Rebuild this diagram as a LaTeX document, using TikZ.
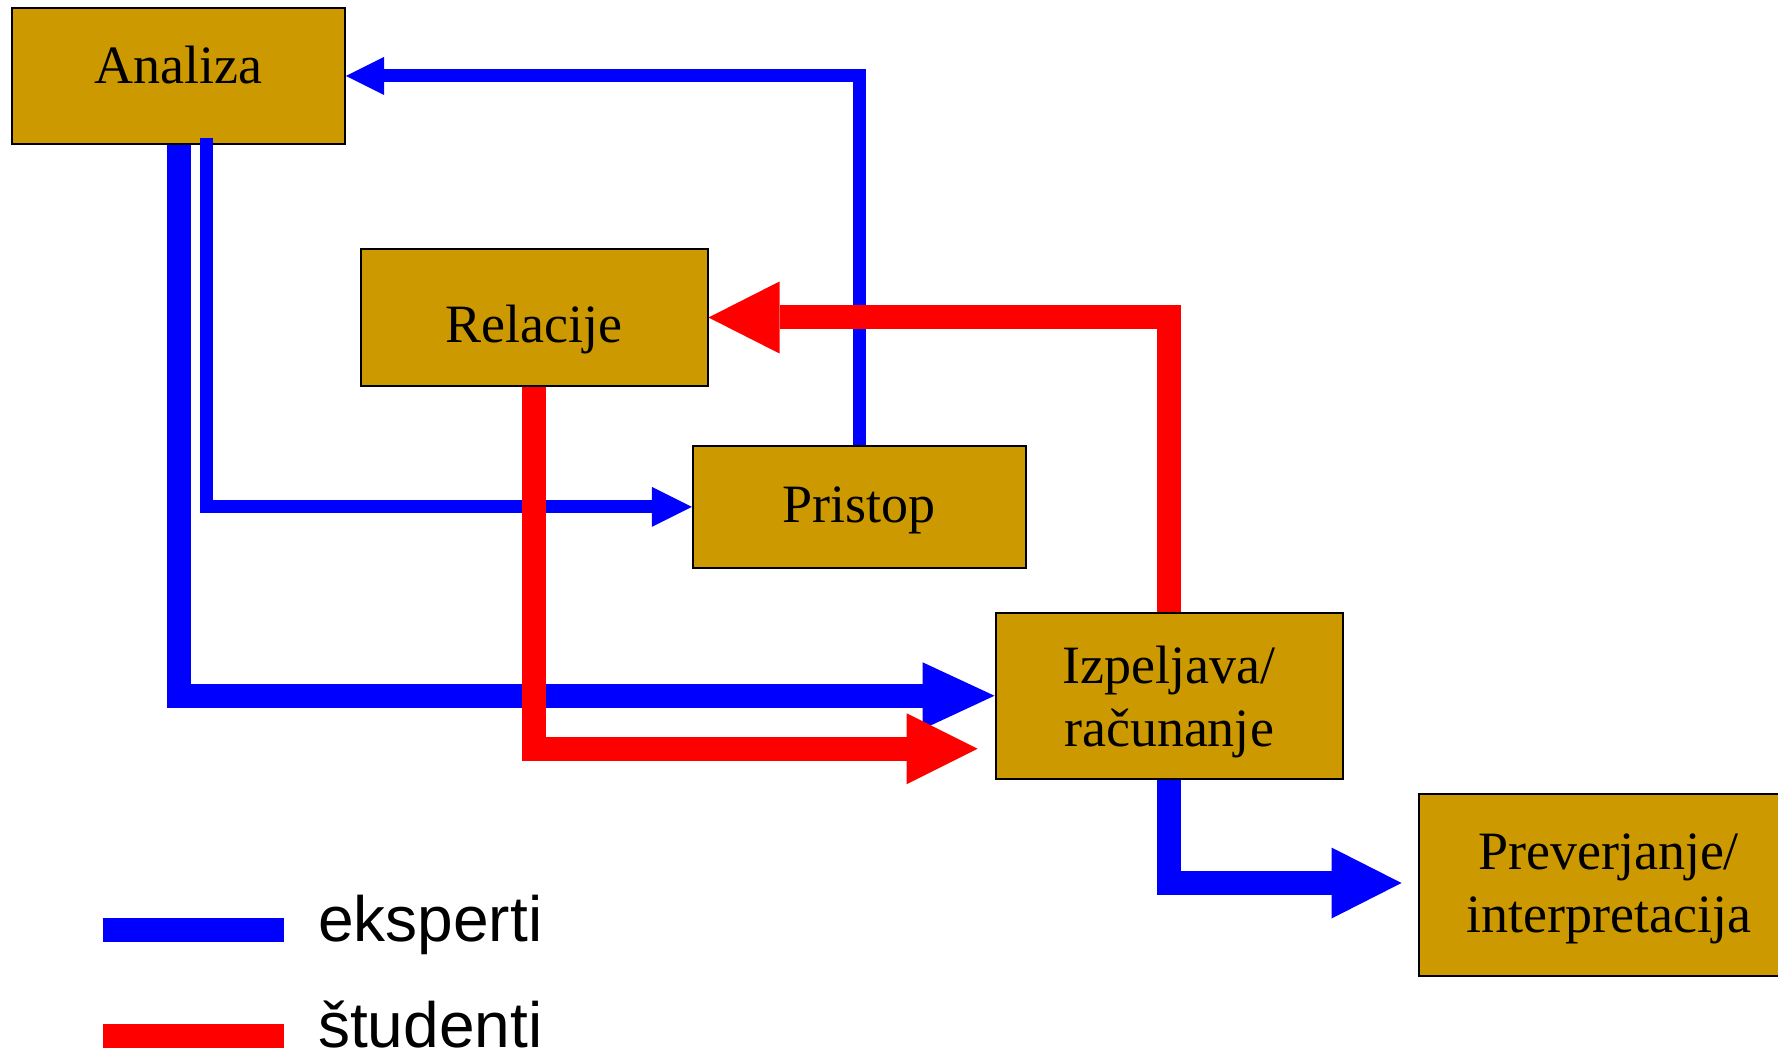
\documentclass[tikz,border=0pt]{standalone}
\usepackage{fontspec}
\setmainfont{Liberation Serif}
\newfontfamily\legendfont{Liberation Sans}
\usetikzlibrary{arrows.meta}

\definecolor{boxgold}{RGB}{204,153,0}
\tikzset{
  stagebox/.style={draw=black, line width=2pt, fill=boxgold, inner sep=0pt,
    font=\fontsize{54}{63}\selectfont, align=center},
  eksp/.style={draw=blue, line width=24pt},
  eksplite/.style={draw=blue, line width=13pt},
  stud/.style={draw=red, line width=24pt},
  legendlabel/.style={inner sep=0pt, anchor=base west, font=\legendfont\fontsize{64}{64}\selectfont},
}

\begin{document}
\begin{tikzpicture}[x=1pt, y=-1pt]
    \useasboundingbox (0,0) rectangle (1778,1059);
    \clip (0,0) rectangle (1778,1059);

    % stages
    \node[stagebox, minimum width=333pt, minimum height=136pt, text height=36pt, text depth=20pt] (analiza) at (178.5,76) {Analiza};
    \node[stagebox, minimum width=347pt, minimum height=136pt, text height=61pt, text depth=12pt] (relacije) at (534,317.5) {Relacije};
    \node[stagebox, minimum width=333pt, minimum height=121.7pt, text height=43.7pt, text depth=12pt] (pristop) at (859.3,506.85) {Pristop};
    \node[stagebox, minimum width=347pt, minimum height=166.5pt] (izpeljava) at (1169,695.75) {\rule{0pt}{50pt}Izpeljava/\\ra\v{c}unanje};
    \node[stagebox, minimum width=380pt, minimum height=182pt] (prev) at (1608.5,885) {\rule{0pt}{44pt}Preverjanje/\\interpretacija};

    % eksperti
    \draw[eksp, -{Triangle[length=72pt, width=67pt, line width=0pt]}] (analiza.south) |- (izpeljava.west);
    \draw[eksplite, -{Triangle[length=40pt, width=40pt, line width=0pt]}] ([xshift=27.5pt, yshift=7pt]analiza.south) |- (pristop.west);
    \draw[eksplite, -{Triangle[length=38pt, width=38pt, line width=0pt]}] (pristop.north) |- (analiza.east);
    \coordinate (previn) at ([xshift=-16pt, yshift=2pt]prev.west);
    \draw[eksp, -{Triangle[length=70pt, width=71pt, line width=0pt]}] (izpeljava.south) |- (previn);

    % studenti
    \coordinate (izpin) at ([xshift=-17pt, yshift=-53pt]izpeljava.west);
    \draw[stud, -{Triangle[length=71pt, width=71pt, line width=0pt]}] (relacije.south) |- (izpin);
    \draw[stud, -{Triangle[length=71pt, width=72pt, line width=0pt]}] (izpeljava.north) |- (relacije.east);

    % legend
    \node[legendlabel] (eksperti) at (318,941.7) {eksperti};
    \node[legendlabel] (studenti) at (318,1047) {študenti};
    \coordinate (eksA) at (102.7,930);
    \coordinate (eksB) at (284,930);
    \coordinate (studA) at (102.7,1036);
    \coordinate (studB) at (284,1036);
    \draw[eksp] (eksA) -- (eksB);
    \draw[stud] (studA) -- (studB);
\end{tikzpicture}
\end{document}
